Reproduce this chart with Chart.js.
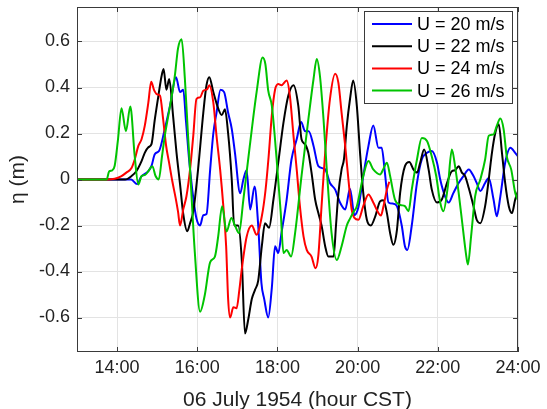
<!DOCTYPE html>
<html><head><meta charset="utf-8">
<script src="https://cdn.jsdelivr.net/npm/chart.js@4/dist/chart.umd.min.js"></script>
<style>html,body{margin:0;padding:0;background:#fff}#wrap{width:547px;height:409px;position:relative}</style>
</head><body><div id="wrap"><canvas id="c" width="547" height="409"></canvas></div>
<script>
const seriesNames = ['U = 20 m/s', 'U = 22 m/s', 'U = 24 m/s', 'U = 26 m/s'];
const seriesColors = ['#0000ff', '#000000', '#ff0000', '#00c400'];
const xTicks = [14, 16, 18, 20, 22, 24];
const xTickLabels = ['14:00', '16:00', '18:00', '20:00', '22:00', '24:00'];
const yTicks = [-0.6, -0.4, -0.2, 0, 0.2, 0.4, 0.6];
const yTickLabels = ['-0.6', '-0.4', '-0.2', '0', '0.2', '0.4', '0.6'];

// U = 20 m/s
const t20 = [13.0, 14.35, 14.5, 14.6, 14.78, 14.86, 14.94, 15.05, 15.19, 15.32, 15.47, 15.57, 15.65, 15.72, 15.8, 15.9, 15.98, 16.07, 16.15, 16.23, 16.32, 16.4, 16.48, 16.58, 16.67, 16.77, 16.86, 16.94, 17.07, 17.15, 17.23, 17.32, 17.43, 17.52, 17.6, 17.67, 17.77, 17.86, 17.94, 18.02, 18.1, 18.23, 18.35, 18.48, 18.59, 18.69, 18.78, 18.9, 19.02, 19.19, 19.31, 19.44, 19.56, 19.69, 19.81, 19.92, 20.02, 20.14, 20.27, 20.39, 20.52, 20.6, 20.68, 20.77, 20.89, 20.98, 21.1, 21.18, 21.24, 21.35, 21.48, 21.6, 21.73, 21.85, 21.98, 22.06, 22.18, 22.27, 22.39, 22.52, 22.64, 22.77, 22.89, 22.97, 23.06, 23.18, 23.27, 23.39, 23.47, 23.56, 23.68, 23.81, 23.93, 24.0];
const eta20 = [0, 0, -0.02, 0.012, 0.036, 0.06, 0.11, 0.125, 0.22, 0.32, 0.445, 0.38, 0.39, 0.25, 0.08, -0.08, -0.17, -0.2, -0.155, -0.15, 0.04, 0.2, 0.29, 0.39, 0.38, 0.29, 0.22, 0.116, -0.06, 0.0, 0.04, -0.13, -0.03, -0.2, -0.45, -0.52, -0.6, -0.47, -0.29, -0.32, -0.233, -0.087, 0.087, 0.175, 0.25, 0.21, 0.21, 0.146, 0.058, 0.044, -0.015, -0.044, -0.1, -0.13, -0.04, -0.155, -0.12, 0.015, 0.146, 0.235, 0.138, 0.138, 0.03, -0.1, -0.105, -0.116, -0.2, -0.29, -0.306, -0.2, -0.015, 0.087, 0.116, 0.124, 0.073, 0, -0.073, -0.1, -0.058, -0.015, 0.015, 0.044, 0.015, -0.015, -0.05, -0.015, 0.007, -0.087, -0.16, -0.073, 0.073, 0.138, 0.116, 0.1];

// U = 22 m/s
const t22 = [13.0, 14.2, 14.36, 14.48, 14.61, 14.69, 14.78, 14.86, 14.94, 15.03, 15.11, 15.16, 15.23, 15.3, 15.4, 15.48, 15.57, 15.65, 15.75, 15.82, 15.9, 16.02, 16.15, 16.23, 16.3, 16.4, 16.52, 16.61, 16.69, 16.77, 16.86, 16.92, 17.02, 17.11, 17.19, 17.27, 17.36, 17.44, 17.52, 17.61, 17.69, 17.79, 17.9, 18.02, 18.15, 18.27, 18.4, 18.52, 18.6, 18.69, 18.77, 18.85, 18.94, 19.02, 19.1, 19.19, 19.27, 19.4, 19.46, 19.52, 19.6, 19.66, 19.73, 19.81, 19.89, 19.98, 20.06, 20.14, 20.23, 20.33, 20.44, 20.56, 20.64, 20.73, 20.81, 20.89, 20.98, 21.06, 21.18, 21.29, 21.39, 21.48, 21.56, 21.66, 21.77, 21.85, 21.98, 22.1, 22.23, 22.35, 22.43, 22.52, 22.6, 22.68, 22.77, 22.89, 22.97, 23.06, 23.18, 23.27, 23.35, 23.43, 23.52, 23.6, 23.68, 23.77, 23.85, 23.93, 24.0];
const eta22 = [0, 0, 0.015, 0.036, 0.08, 0.116, 0.14, 0.155, 0.26, 0.364, 0.45, 0.48, 0.39, 0.437, 0.27, 0.12, -0.02, -0.15, -0.225, -0.19, -0.14, 0.044, 0.29, 0.41, 0.445, 0.38, 0.31, 0.28, 0.305, 0.2, 0, -0.2, -0.2, -0.35, -0.67, -0.61, -0.52, -0.48, -0.44, -0.29, -0.19, -0.21, -0.087, 0.073, 0.247, 0.364, 0.41, 0.32, 0.175, 0.153, 0.116, 0.03, -0.087, -0.146, -0.2, -0.29, -0.335, -0.335, -0.2, -0.06, 0.044, 0.09, 0.233, 0.35, 0.43, 0.32, 0.116, -0.058, -0.175, -0.2, -0.16, -0.095, -0.09, -0.146, -0.233, -0.284, -0.22, -0.058, 0.058, 0.076, 0.044, 0.03, 0.073, 0.13, 0.044, -0.044, -0.1, -0.087, -0.015, 0.036, 0.04, 0.058, 0.03, 0.015, -0.036, -0.116, -0.175, -0.19, -0.116, 0, 0.116, 0.2, 0.24, 0.116, -0.015, -0.116, -0.146, -0.087, -0.05];

// U = 24 m/s
const t24 = [13.0, 13.74, 13.94, 14.11, 14.23, 14.36, 14.44, 14.53, 14.61, 14.69, 14.78, 14.85, 14.92, 15.0, 15.07, 15.15, 15.22, 15.3, 15.38, 15.46, 15.52, 15.57, 15.65, 15.73, 15.82, 15.9, 15.98, 16.07, 16.15, 16.25, 16.3, 16.4, 16.48, 16.57, 16.65, 16.72, 16.77, 16.82, 16.9, 16.98, 17.05, 17.11, 17.23, 17.36, 17.48, 17.61, 17.7, 17.78, 17.86, 17.94, 18.02, 18.1, 18.23, 18.31, 18.4, 18.48, 18.56, 18.65, 18.73, 18.85, 18.95, 19.02, 19.1, 19.19, 19.31, 19.44, 19.52, 19.6, 19.69, 19.77, 19.85, 19.92, 20.02, 20.14, 20.27, 20.39, 20.52, 20.58, 20.64, 20.73, 20.79];
const eta24 = [0, 0, 0.003, 0.015, 0.03, 0.05, 0.087, 0.146, 0.175, 0.233, 0.335, 0.425, 0.39, 0.37, 0.365, 0.26, 0.15, 0.07, -0.01, -0.08, -0.14, -0.2, -0.13, -0.073, 0.044, 0.19, 0.35, 0.357, 0.386, 0.393, 0.41, 0.335, 0.19, 0.044, -0.116, -0.29, -0.52, -0.6, -0.555, -0.56, -0.48, -0.39, -0.25, -0.2, -0.24, -0.16, -0.05, 0.1, 0.28, 0.39, 0.415, 0.41, 0.43, 0.364, 0.19, 0.044, -0.116, -0.247, -0.306, -0.335, -0.386, -0.33, -0.116, 0.116, 0.35, 0.46, 0.42, 0.29, 0.146, 0, -0.13, -0.167, -0.175, -0.116, -0.065, -0.1, -0.146, -0.157, -0.12, -0.044, -0.01];

// U = 26 m/s
const t26 = [13.0, 13.74, 13.8, 13.88, 13.94, 14.02, 14.11, 14.22, 14.33, 14.44, 14.53, 14.61, 14.7, 14.78, 14.88, 14.96, 15.04, 15.12, 15.19, 15.28, 15.36, 15.44, 15.52, 15.61, 15.69, 15.77, 15.82, 15.94, 16.07, 16.19, 16.32, 16.44, 16.52, 16.62, 16.73, 16.85, 16.94, 17.04, 17.15, 17.31, 17.48, 17.63, 17.7, 17.77, 17.86, 17.98, 18.08, 18.15, 18.23, 18.34, 18.44, 18.6, 18.77, 18.9, 18.98, 19.06, 19.15, 19.23, 19.35, 19.48, 19.6, 19.73, 19.81, 19.9, 19.98, 20.14, 20.27, 20.39, 20.56, 20.64, 20.73, 20.81, 20.93, 21.06, 21.18, 21.27, 21.35, 21.48, 21.6, 21.73, 21.85, 21.96, 22.06, 22.14, 22.25, 22.35, 22.43, 22.52, 22.6, 22.7, 22.75, 22.83, 22.93, 23.06, 23.18, 23.27, 23.39, 23.47, 23.56, 23.64, 23.72, 23.83, 23.93, 24.0];
const eta26 = [0, 0, 0.035, 0.04, 0.06, 0.17, 0.31, 0.21, 0.317, 0.1, -0.022, 0.015, 0.02, 0.036, 0.058, 0.015, 0.0, 0.1, 0.19, 0.28, 0.36, 0.45, 0.57, 0.61, 0.44, 0.19, 0.044, -0.32, -0.575, -0.5, -0.36, -0.335, -0.25, -0.116, -0.226, -0.167, -0.2, -0.233, -0.087, 0.146, 0.38, 0.53, 0.5, 0.386, 0.32, 0.087, -0.14, -0.32, -0.306, -0.335, -0.233, 0.015, 0.26, 0.437, 0.524, 0.45, 0.26, 0.044, -0.233, -0.35, -0.29, -0.2, -0.17, -0.14, -0.116, 0.015, 0.08, 0.044, 0.022, 0.045, 0.073, 0.015, -0.087, -0.11, -0.116, -0.138, -0.044, 0.087, 0.18, 0.167, 0.1, 0.015, -0.1, -0.138, -0.03, 0.13, 0.058, -0.058, -0.175, -0.32, -0.37, -0.247, -0.073, 0, 0.087, 0.19, 0.196, 0.233, 0.265, 0.22, 0.1, 0.044, -0.058, -0.09];

const FONT = "'Liberation Sans', Arial, Helvetica, sans-serif";
const times = [t20, t22, t24, t26];
const etas = [eta20, eta22, eta24, eta26];
function pts(t, e) { const n = Math.min(t.length, e.length); const o = []; for (let i = 0; i < n; i++) o.push({x: t[i], y: e[i]}); return o; }

const datasets = seriesNames.map((name, i) => ({
  label: name,
  data: pts(times[i], etas[i]),
  borderColor: seriesColors[i],
  backgroundColor: seriesColors[i],
  borderWidth: 2,
  pointRadius: 0,
  fill: false,
  cubicInterpolationMode: 'monotone',
  order: 4 - i
}));

const framePlugin = {
  id: 'frame',
  afterDatasetsDraw(chart) {
    const {ctx, chartArea: a, scales} = chart;
    ctx.save();
    ctx.strokeStyle = '#3a3a3a';
    ctx.lineWidth = 1;
    ctx.beginPath();
    const L = 5;
    xTicks.forEach(v => {
      const px = Math.round(scales.x.getPixelForValue(v)) + 0.5;
      ctx.moveTo(px, a.bottom); ctx.lineTo(px, a.bottom - L);
      ctx.moveTo(px, a.top); ctx.lineTo(px, a.top + L);
    });
    yTicks.forEach(v => {
      const py = Math.round(scales.y.getPixelForValue(v)) + 0.5;
      ctx.moveTo(a.left, py); ctx.lineTo(a.left + L, py);
      ctx.moveTo(a.right, py); ctx.lineTo(a.right - L, py);
    });
    ctx.stroke();
    ctx.strokeRect(Math.round(a.left) + 0.5, Math.round(a.top) + 0.5, Math.round(a.right - a.left) - 1, Math.round(a.bottom - a.top) - 1);
    ctx.restore();
  },
  afterDraw(chart) {
    const {ctx, chartArea: a} = chart;
    ctx.save();
    const bx = a.right - 154, by = a.top + 4, bw = 148, bh = 92;
    ctx.fillStyle = '#ffffff';
    ctx.fillRect(bx, by, bw, bh);
    ctx.strokeStyle = '#3a3a3a';
    ctx.lineWidth = 1;
    ctx.strokeRect(bx + 0.5, by + 0.5, bw, bh);
    ctx.font = '18px ' + FONT;
    ctx.textBaseline = 'middle';
    ctx.textAlign = 'left';
    chart.data.datasets.forEach((ds, i) => {
      const y = by + 13 + i * 22.2;
      ctx.strokeStyle = ds.borderColor;
      ctx.lineWidth = 2;
      ctx.beginPath();
      ctx.moveTo(bx + 8, y); ctx.lineTo(bx + 48, y);
      ctx.stroke();
      ctx.fillStyle = '#000';
      ctx.fillText(ds.label, bx + 53, y + 1);
    });
    ctx.restore();
  }
};

new Chart(document.getElementById('c'), {
  type: 'line',
  data: { datasets },
  options: {
    responsive: false,
    animation: false,
    devicePixelRatio: 1,
    layout: { padding: { left: 0, right: 29, top: 7, bottom: 0 } },
    plugins: { legend: { display: false }, tooltip: { enabled: false } },
    scales: {
      x: {
        type: 'linear', min: 13, max: 24,
        afterBuildTicks: s => { s.ticks = xTicks.map(v => ({ value: v })); },
        afterFit: s => { s.height = 57; s.paddingLeft = 0; s.paddingRight = 0; },
        ticks: {
          callback: (v) => { const k = xTicks.indexOf(v); return k >= 0 ? xTickLabels[k] : ''; },
          font: { size: 18, family: FONT }, color: '#222', padding: 5, maxRotation: 0, autoSkip: false
        },
        grid: { color: '#e3e3e3', lineWidth: 1, drawTicks: false },
        border: { display: false },
        title: { display: true, text: '06 July 1954 (hour CST)', font: { size: 21, family: FONT, lineHeight: 0.86 }, color: '#222', padding: { top: 0, bottom: 0 } }
      },
      y: {
        type: 'linear', min: -0.75, max: 0.75,
        afterBuildTicks: s => { s.ticks = yTicks.map(v => ({ value: v })); },
        afterFit: s => { s.width = 77; s.paddingTop = 0; s.paddingBottom = 0; },
        ticks: {
          callback: (v) => { const k = yTicks.findIndex(q => Math.abs(q - v) < 1e-9); return k >= 0 ? yTickLabels[k] : ''; },
          font: { size: 18, family: FONT }, color: '#222', padding: 7, autoSkip: false
        },
        grid: { color: '#e3e3e3', lineWidth: 1, drawTicks: false },
        border: { display: false },
        title: { display: true, text: 'η (m)', font: { size: 21, family: FONT, lineHeight: 1.2 }, color: '#222', padding: { top: 6, bottom: 0 } }
      }
    }
  },
  plugins: [framePlugin]
});
</script>
</body></html>
